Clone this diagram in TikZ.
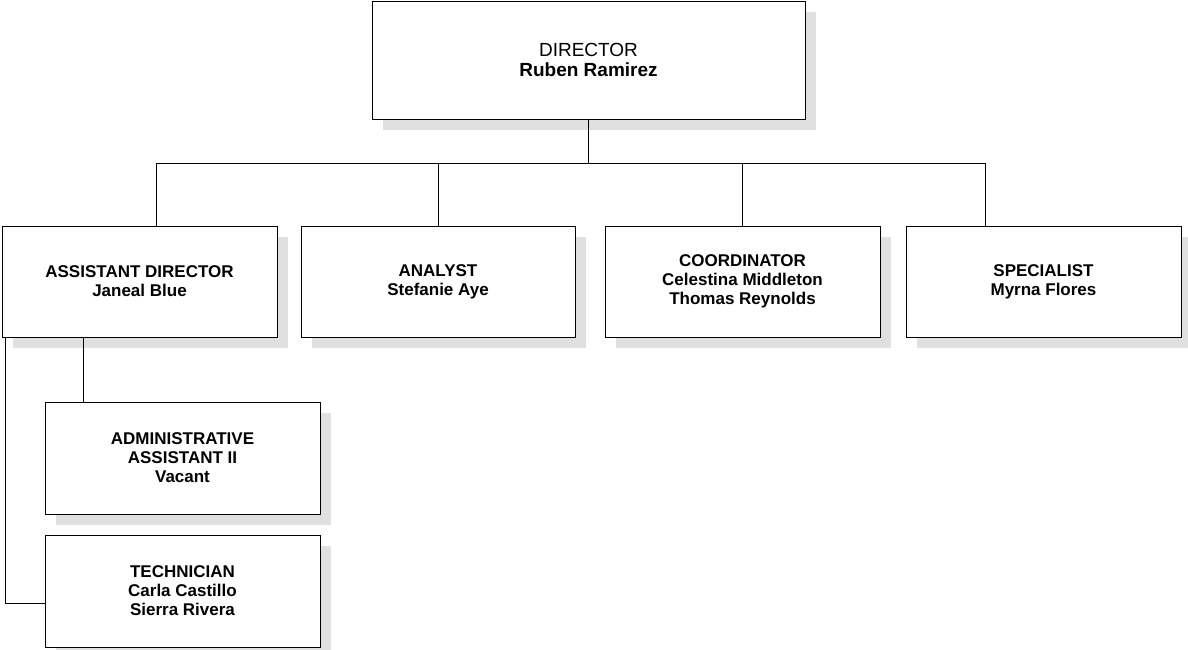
\documentclass[tikz,border=0pt]{standalone}
\usepackage{fontspec}
\setmainfont{Liberation Sans}
\usetikzlibrary{shadows}
\tikzset{
  orgbox/.style={
    draw, fill=white, line width=1pt, align=center, inner sep=0pt,
    minimum width=275pt, minimum height=111pt,
    font=\fontsize{17}{19}\selectfont\bfseries,
    drop shadow={shadow xshift=11pt, shadow yshift=-11pt,
                 fill=black!12, opacity=1}
  },
  headbox/.style={orgbox, minimum width=433pt, minimum height=118pt,
    font=\fontsize{19}{20}\selectfont},
  link/.style={line width=1pt}
}

\begin{document}
\begin{tikzpicture}[x=1pt,y=-1pt]

  \path[use as bounding box] (0,0) rectangle (1188,649);

  % top
  \node[headbox] (dir) at (588.5,60) {DIRECTOR\\\textbf{Ruben Ramirez}};

  % second row
  \node[orgbox] (asst) at (139.5,281.5) {ASSISTANT DIRECTOR\\Janeal Blue};
  \node[orgbox, minimum width=274pt] (anal) at (438,281.5)
    {ANALYST\\Stefanie Aye};
  \node[orgbox] (coord) at (742.5,281.5)
    {COORDINATOR\\Celestina Middleton\\Thomas Reynolds};
  \node[orgbox] (spec) at (1043.5,281.5) {SPECIALIST\\Myrna Flores};

  % under the assistant director
  \node[orgbox, minimum height=112pt] (admin) at (182.5,458)
    {ADMINISTRATIVE\\ASSISTANT II\\Vacant};
  \node[orgbox, minimum height=112pt] (tech) at (182.5,591)
    {TECHNICIAN\\Carla Castillo\\Sierra Rivera};

  % bus lines
  \coordinate (busL) at (156,163);
  \coordinate (busR) at (985,163);
  \coordinate (dropA) at (438,163);
  \coordinate (dropC) at (742,163);
  \coordinate (stemA) at (83,337);
  \coordinate (stemT) at (5,337);
  \coordinate (footT) at (5,603);

  \draw[link] (dir.south) -- (dir.south |- busL);
  \draw[link] (busL) -- (busR);
  \draw[link] (busL) -- (busL |- asst.north);
  \draw[link] (dropA) -- (dropA |- anal.north);
  \draw[link] (dropC) -- (dropC |- coord.north);
  \draw[link] (busR) -- (busR |- spec.north);

  \draw[link] (stemA) -- (stemA |- admin.north);
  \draw[link] (stemT) -- (footT) -- (footT -| tech.west);

\end{tikzpicture}
\end{document}
